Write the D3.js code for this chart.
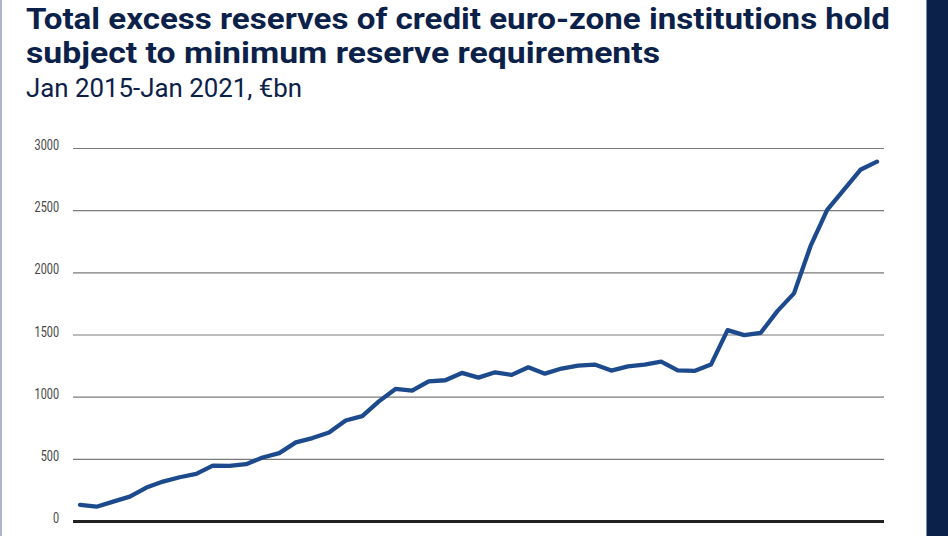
<!DOCTYPE html>
<html>
<head>
<meta charset="utf-8">
<script src="https://cdn.jsdelivr.net/npm/d3@7"></script>
<style>
  html, body { margin: 0; padding: 0; background: #fff; }
  svg { display: block; }
</style>
</head>
<body>
<div id="chart"></div>
<script>
// DATA: excess reserves per maintenance period, Jan 2015 - Jan 2021 (EUR bn)
const reserves = [130, 115, 156, 196, 269, 317, 352, 379, 446, 444,
  457, 511, 546, 632, 667, 712, 808, 843, 962, 1062,
  1048, 1123, 1132, 1191, 1153, 1196, 1175, 1236, 1185, 1226,
  1250, 1258, 1210, 1244, 1258, 1282, 1212, 1207, 1258, 1535,
  1495, 1514, 1688, 1831, 2212, 2502, 2664, 2825, 2890];
const yTicks = [0, 500, 1000, 1500, 2000, 2500, 3000];
const titleLines = ["Total excess reserves of credit euro-zone institutions hold",
  "subject to minimum reserve requirements"];
const subtitle = "Jan 2015-Jan 2021, \u20acbn";

const width = 948, height = 536;
const navy = "#0c2149";
const lineBlue = "#1d4a8c";

const svg = d3.select("#chart").append("svg")
  .attr("width", width)
  .attr("height", height);

// left frame edge and right navy band
svg.append("rect").attr("x", 0).attr("y", 0).attr("width", 2).attr("height", height).attr("fill", "#aeb8cb");
svg.append("rect").attr("x", 926).attr("y", 0).attr("width", 1).attr("height", height).attr("fill", "#7d8aa3");
svg.append("rect").attr("x", 927).attr("y", 0).attr("width", width - 927).attr("height", height).attr("fill", navy);

// titles
const titleFont = "'Roboto', 'DejaVu Sans', sans-serif";
svg.append("text")
  .attr("x", 26).attr("y", 29)
  .attr("textLength", 864).attr("lengthAdjust", "spacingAndGlyphs")
  .style("font-family", titleFont).style("font-weight", 700).style("font-size", "30px")
  .attr("fill", navy).text(titleLines[0]);
svg.append("text")
  .attr("x", 26).attr("y", 63)
  .attr("textLength", 634).attr("lengthAdjust", "spacingAndGlyphs")
  .style("font-family", titleFont).style("font-weight", 700).style("font-size", "30px")
  .attr("fill", navy).text(titleLines[1]);
svg.append("text")
  .attr("x", 26).attr("y", 97)
  .attr("textLength", 276).attr("lengthAdjust", "spacingAndGlyphs")
  .style("font-family", titleFont).style("font-weight", 400).style("font-size", "25px")
  .attr("fill", navy).text(subtitle);

// scales
const gridLeft = 73, gridRight = 884;
const x = d3.scaleLinear().domain([0, reserves.length - 1]).range([80, 877]);
const y = d3.scaleLinear().domain([0, 3000]).range([521, 148]);

const yAxis = d3.axisLeft(y)
  .tickValues(yTicks)
  .tickSize(gridRight - gridLeft)
  .tickPadding(14)
  .tickFormat(d3.format("d"));

const gAxis = svg.append("g")
  .attr("transform", `translate(${gridRight},0)`)
  .call(yAxis);
gAxis.select(".domain").remove();
gAxis.selectAll(".tick line")
  .attr("stroke", d => d === 0 ? "#222" : "#7a7a7a")
  .attr("stroke-width", d => d === 0 ? 3 : 1.2);
// condensed look: squeeze the digits horizontally
gAxis.selectAll(".tick text")
  .attr("dy", "0.1em")
  .attr("fill", "#444")
  .style("font-family", "'Roboto', 'DejaVu Sans', sans-serif")
  .style("font-size", "15px")
  .attr("textLength", d => String(d).length * 6.1)
  .attr("lengthAdjust", "spacingAndGlyphs");

// line
const line = d3.line()
  .x((d, i) => x(i))
  .y(d => y(d));

svg.append("path")
  .datum(reserves)
  .attr("fill", "none")
  .attr("stroke", lineBlue)
  .attr("stroke-width", 4.3)
  .attr("stroke-linejoin", "round")
  .attr("stroke-linecap", "round")
  .attr("d", line);
</script>
</body>
</html>
